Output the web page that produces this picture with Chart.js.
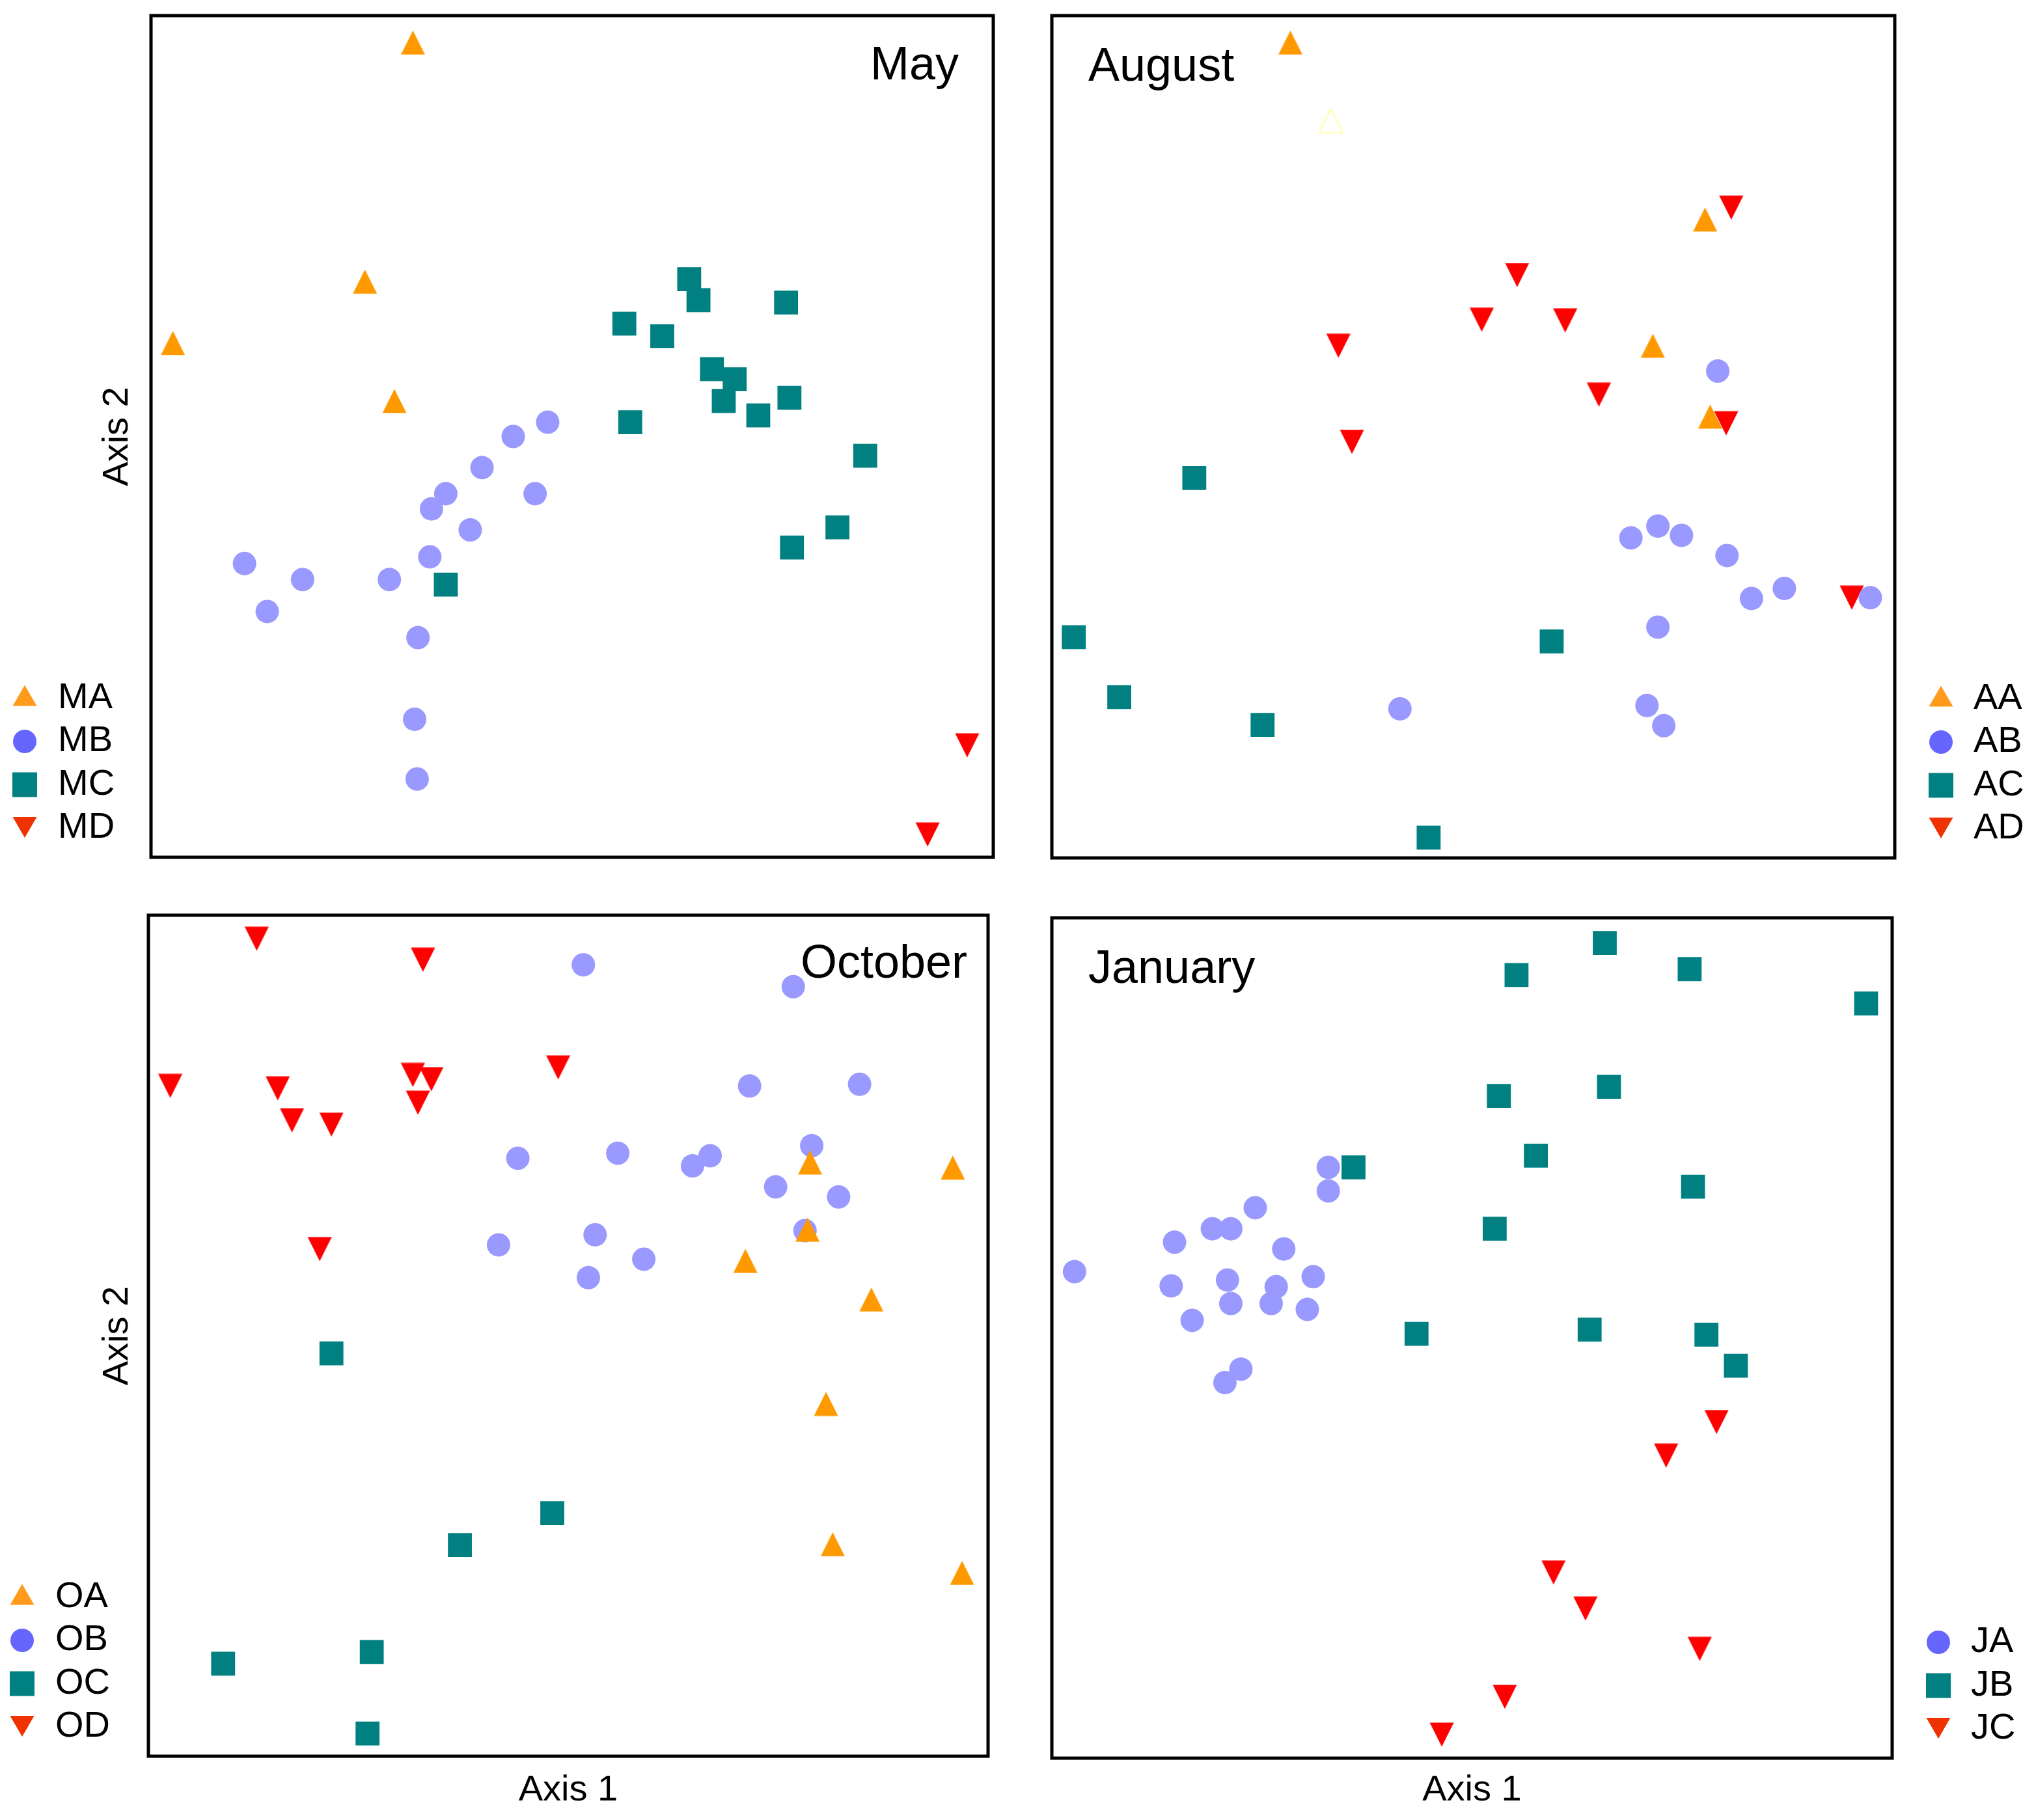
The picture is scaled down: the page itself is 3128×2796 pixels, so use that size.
<!DOCTYPE html>
<html>
<head>
<meta charset="utf-8">
<script src="https://cdn.jsdelivr.net/npm/chart.js@4.4.0/dist/chart.umd.min.js"></script>
<style>
html,body{margin:0;padding:0;background:#ffffff;}
#page{position:relative;width:3128px;height:2796px;background:#ffffff;overflow:hidden;}
#page canvas{position:absolute;}
</style>
</head>
<body>
<div id="page"></div>
<script>
// ---------- DATA (ordination scores, unitless, axis range 0-100) ----------
const panelTitles = ['May', 'August', 'October', 'January'];
const axisTitleX = 'Axis 1';
const axisTitleY = 'Axis 2';

// May
const mayLabels = ['MA', 'MB', 'MC', 'MD'];
const mayA_x = [31.1, 25.4, 2.6, 28.9];
const mayA_y = [96.8, 68.4, 61.1, 54.2];
const mayB_x = [11.1, 13.8, 18.0, 28.3, 33.1, 33.3, 35.0, 37.9, 39.3, 43.0, 47.1, 45.6, 31.7, 31.3, 31.6];
const mayB_y = [34.9, 29.2, 33.0, 33.0, 35.7, 41.4, 43.2, 38.9, 46.3, 50.0, 51.7, 43.2, 26.1, 16.4, 9.3];
const mayC_x = [63.9, 65.0, 75.4, 56.2, 60.7, 66.6, 69.3, 68.0, 75.8, 72.1, 56.9, 84.8, 81.5, 76.1, 35.0];
const mayC_y = [68.7, 66.2, 65.9, 63.4, 61.9, 58.0, 56.8, 54.2, 54.6, 52.5, 51.7, 47.7, 39.2, 36.8, 32.4];
const mayD_x = [96.9, 92.2];
const mayD_y = [13.3, 2.7];

// August
const augLabels = ['AA', 'AB', 'AC', 'AD'];
const augA_x = [28.3, 77.5, 71.3, 78.1];
const augA_y = [96.8, 75.8, 60.8, 52.4];
const augFaint_x = [33.1];
const augFaint_y = [87.5];
const augB_x = [79.0, 68.7, 71.9, 74.7, 80.1, 83.0, 86.9, 97.1, 71.9, 70.6, 72.6, 41.3];
const augB_y = [57.8, 38.0, 39.4, 38.3, 35.9, 30.8, 32.0, 30.9, 27.4, 18.1, 15.7, 17.7];
const augC_x = [16.9, 2.6, 8.0, 25.0, 59.3, 44.7];
const augC_y = [45.1, 26.2, 19.1, 15.8, 25.7, 2.4];
const augD_x = [80.6, 55.2, 51.0, 60.9, 34.0, 64.9, 80.0, 35.6, 94.9];
const augD_y = [77.2, 69.2, 63.9, 63.8, 60.8, 55.0, 51.6, 49.4, 30.9];

// October
const octLabels = ['OA', 'OB', 'OC', 'OD'];
const octA_x = [78.8, 95.8, 78.5, 71.1, 86.1, 80.7, 81.5, 96.9];
const octA_y = [70.6, 70.0, 62.6, 58.9, 54.3, 41.9, 25.2, 21.8];
const octB_x = [51.8, 76.8, 71.6, 84.7, 44.0, 55.9, 64.8, 66.9, 79.0, 74.7, 82.2, 53.2, 41.7, 59.0, 52.4, 78.2];
const octB_y = [94.1, 91.5, 79.7, 79.9, 71.1, 71.7, 70.2, 71.4, 72.6, 67.7, 66.5, 62.0, 60.8, 59.1, 56.9, 62.5];
const octC_x = [21.8, 48.1, 37.1, 8.9, 26.6, 26.1];
const octC_y = [47.9, 28.9, 25.1, 11.0, 12.4, 2.7];
const octD_x = [12.9, 32.7, 2.6, 15.4, 31.5, 33.7, 48.8, 17.1, 21.8, 32.1, 20.4];
const octD_y = [97.2, 94.7, 79.7, 79.4, 81.0, 80.5, 81.9, 75.6, 75.1, 77.7, 60.3];

// January
const janLabels = ['JA', 'JB', 'JC'];
const janA_x = [2.7, 14.6, 19.1, 21.3, 24.2, 32.9, 32.9, 14.2, 20.9, 26.7, 27.6, 31.1, 16.7, 21.3, 26.1, 30.4, 22.5, 20.6];
const janA_y = [57.9, 61.4, 63.0, 63.0, 65.5, 70.3, 67.5, 56.2, 56.9, 56.1, 60.6, 57.3, 52.1, 54.1, 54.1, 53.4, 46.3, 44.7];
const janB_x = [65.8, 55.3, 75.9, 96.9, 53.2, 66.3, 35.9, 57.6, 76.3, 52.7, 43.4, 64.0, 77.9, 81.4];
const janB_y = [97.0, 93.2, 93.9, 89.8, 78.8, 79.9, 70.3, 71.7, 68.0, 63.0, 50.5, 51.0, 50.4, 46.7];
const janC_x = [79.1, 73.1, 59.7, 63.5, 77.1, 53.9, 46.4];
const janC_y = [40.0, 36.0, 22.1, 17.8, 13.0, 7.3, 2.8];

// ---------- STYLE ----------
const FONT = '"Liberation Sans", Arial, Helvetica, sans-serif';
const COL = { orange: '#FF9900', lav: '#9999FF', teal: '#008080', red: '#FF0000', faint: '#FFFFB0' };
const LEG = { orange: '#FF9A1C', blue: '#6666FF', teal: '#008080', red: '#EE3300' };

function triImage(color, down, outline) {
  const c = document.createElement('canvas');
  c.width = 38; c.height = 38;
  const g = c.getContext('2d');
  g.beginPath();
  if (down) { g.moveTo(0.5, 0.5); g.lineTo(37.5, 0.5); g.lineTo(19, 37.5); }
  else { g.moveTo(19, 0.5); g.lineTo(37.5, 37.5); g.lineTo(0.5, 37.5); }
  g.closePath();
  if (outline) { g.strokeStyle = color; g.lineWidth = 2.5; g.stroke(); }
  else { g.fillStyle = color; g.fill(); }
  return c;
}

function ser(label, xs, ys, shape, color, legendColor, outline) {
  return { label, xs, ys, shape, color, legendColor, outline: !!outline, legend: legendColor !== null };
}

const panels = [
  {
    title: panelTitles[0], titleAlign: 'right', titleDx: 53, titleDy: 98,
    canvas: [0, 0, 1564, 1398], box: [232, 24, 1526, 1317],
    yTitle: true, xTitle: false, legendSide: 'left',
    series: [
      ser(mayLabels[0], mayA_x, mayA_y, 'up', COL.orange, LEG.orange),
      ser(mayLabels[1], mayB_x, mayB_y, 'circle', COL.lav, LEG.blue),
      ser(mayLabels[2], mayC_x, mayC_y, 'rect', COL.teal, LEG.teal),
      ser(mayLabels[3], mayD_x, mayD_y, 'down', COL.red, LEG.red)
    ]
  },
  {
    title: panelTitles[1], titleAlign: 'left', titleDx: 56, titleDy: 100,
    canvas: [1564, 0, 1564, 1398], box: [1616, 24, 2911, 1318],
    yTitle: false, xTitle: false, legendSide: 'right',
    series: [
      ser(augLabels[0], augA_x, augA_y, 'up', COL.orange, LEG.orange),
      ser(augLabels[1], augB_x, augB_y, 'circle', COL.lav, LEG.blue),
      ser(augLabels[2], augC_x, augC_y, 'rect', COL.teal, LEG.teal),
      ser(augLabels[3], augD_x, augD_y, 'down', COL.red, LEG.red),
      ser('', augFaint_x, augFaint_y, 'up', COL.faint, null, true)
    ]
  },
  {
    title: panelTitles[2], titleAlign: 'right', titleDx: 32, titleDy: 96,
    canvas: [0, 1398, 1564, 1398], box: [228, 1406, 1518, 2698],
    yTitle: true, xTitle: true, legendSide: 'left',
    series: [
      ser(octLabels[0], octA_x, octA_y, 'up', COL.orange, LEG.orange),
      ser(octLabels[1], octB_x, octB_y, 'circle', COL.lav, LEG.blue),
      ser(octLabels[2], octC_x, octC_y, 'rect', COL.teal, LEG.teal),
      ser(octLabels[3], octD_x, octD_y, 'down', COL.red, LEG.red)
    ]
  },
  {
    title: panelTitles[3], titleAlign: 'left', titleDx: 56, titleDy: 100,
    canvas: [1564, 1398, 1564, 1398], box: [1616, 1410, 2907, 2701],
    yTitle: false, xTitle: true, legendSide: 'right',
    series: [
      ser(janLabels[0], janA_x, janA_y, 'circle', COL.lav, LEG.blue),
      ser(janLabels[1], janB_x, janB_y, 'rect', COL.teal, LEG.teal),
      ser(janLabels[2], janC_x, janC_y, 'down', COL.red, LEG.red)
    ]
  }
];

function makeDataset(s) {
  const data = s.xs.map((v, i) => ({ x: v, y: s.ys[i] }));
  let style, radius;
  if (s.shape === 'circle') { style = 'circle'; radius = 18; }
  else if (s.shape === 'rect') { style = 'rect'; radius = 26; }
  else { style = triImage(s.color, s.shape === 'down', s.outline); radius = 19; }
  return {
    label: s.label, data,
    pointStyle: style, pointRadius: radius, pointHoverRadius: radius,
    backgroundColor: s.color, borderColor: s.color, borderWidth: 0,
    showLine: false
  };
}

function legendMarker(ctx, shape, color, x, y) {
  ctx.save();
  ctx.fillStyle = color;
  ctx.beginPath();
  if (shape === 'circle') {
    ctx.arc(x, y, 18, 0, Math.PI * 2);
  } else if (shape === 'rect') {
    ctx.rect(x - 19, y - 19, 38, 38);
  } else if (shape === 'up') {
    const cy = y - 4;
    ctx.moveTo(x, cy - 16); ctx.lineTo(x + 18.5, cy + 16); ctx.lineTo(x - 18.5, cy + 16);
  } else {
    const cy = y - 1;
    ctx.moveTo(x - 18.5, cy - 16); ctx.lineTo(x + 18.5, cy - 16); ctx.lineTo(x, cy + 16);
  }
  ctx.closePath();
  ctx.fill();
  ctx.restore();
}

const page = document.getElementById('page');

panels.forEach((p, idx) => {
  const [cl, ct, cw, ch] = p.canvas;
  const [bl, bt, br, bb] = p.box;
  const yScaleW = p.yTitle ? (bl - 147) : 0;
  const xScaleH = p.xTitle ? (2784 - bb) : 0;
  const pad = {
    left: bl - cl - yScaleW,
    top: bt - ct,
    right: cl + cw - br,
    bottom: ct + ch - bb - xScaleH
  };

  const cv = document.createElement('canvas');
  cv.width = cw; cv.height = ch;
  cv.style.left = cl + 'px'; cv.style.top = ct + 'px';
  cv.style.width = cw + 'px'; cv.style.height = ch + 'px';
  page.appendChild(cv);

  const decor = {
    id: 'decor' + idx,
    afterDraw(chart) {
      const ctx = chart.ctx;
      const a = chart.chartArea;
      ctx.save();
      // frame
      ctx.strokeStyle = '#000000';
      ctx.lineWidth = 5;
      ctx.strokeRect(a.left, a.top, a.right - a.left, a.bottom - a.top);
      // panel title inside plot
      ctx.fillStyle = '#000000';
      ctx.font = '72px ' + FONT;
      ctx.textBaseline = 'alphabetic';
      ctx.textAlign = p.titleAlign;
      const tx = p.titleAlign === 'right' ? a.right - p.titleDx : a.left + p.titleDx;
      ctx.fillText(p.title, tx, a.top + p.titleDy);
      // legend
      const items = p.series.filter(s => s.legend);
      const n = items.length;
      const mx = p.legendSide === 'left' ? a.left - 194 : a.right + 71;
      const tx2 = p.legendSide === 'left' ? a.left - 143 : a.right + 121;
      ctx.font = '56px ' + FONT;
      ctx.textAlign = 'left';
      ctx.textBaseline = 'middle';
      items.forEach((s, i) => {
        const cy = a.bottom - 45 - (n - 1 - i) * 66.5;
        legendMarker(ctx, s.shape, s.legendColor, mx, cy);
        ctx.fillStyle = '#000000';
        ctx.fillText(s.label, tx2, cy);
      });
      ctx.restore();
    }
  };

  new Chart(cv, {
    type: 'scatter',
    data: { datasets: p.series.map(makeDataset) },
    options: {
      responsive: false,
      maintainAspectRatio: false,
      devicePixelRatio: 1,
      animation: false,
      events: [],
      layout: { padding: pad, autoPadding: false },
      plugins: { legend: { display: false }, tooltip: { enabled: false }, title: { display: false } },
      scales: {
        x: {
          type: 'linear', min: 0, max: 100, offset: false,
          display: p.xTitle,
          position: 'bottom',
          grid: { display: false, drawTicks: false },
          border: { display: false },
          ticks: { display: false },
          title: { display: p.xTitle, text: axisTitleX, color: '#000000', padding: 0, font: { family: FONT, size: 56, lineHeight: 1.2 } },
          afterFit(s) { s.height = xScaleH; }
        },
        y: {
          type: 'linear', min: 0, max: 100, offset: false,
          display: p.yTitle,
          position: 'left',
          grid: { display: false, drawTicks: false },
          border: { display: false },
          ticks: { display: false },
          title: { display: p.yTitle, text: axisTitleY, color: '#000000', padding: 0, font: { family: FONT, size: 56, lineHeight: 1.2 } },
          afterFit(s) { s.width = yScaleW; }
        }
      }
    },
    plugins: [decor]
  });
});
</script>
</body>
</html>
